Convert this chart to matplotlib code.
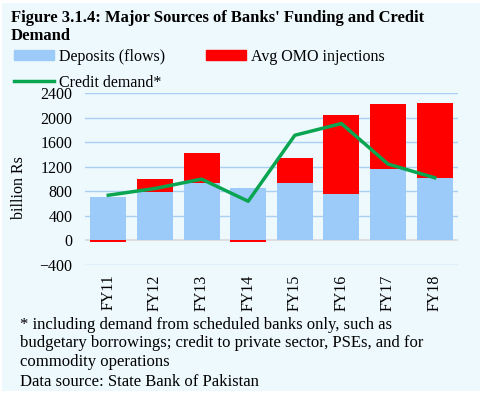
import numpy as np
import matplotlib.pyplot as plt
from matplotlib.patches import Rectangle
from matplotlib.lines import Line2D

years = ['FY11', 'FY12', 'FY13', 'FY14', 'FY15', 'FY16', 'FY17', 'FY18']
deposits = [708, 790, 938, 861, 938, 758, 1167, 1020]
omo = [-25, 203, 490, -25, 409, 1276, 1047, 1216]
credit = [736, 845, 998, 638, 1712, 1903, 1243, 1020]

plt.rcParams['font.family'] = ['Liberation Serif', 'DejaVu Serif']

W, H = 486, 394
fig = plt.figure(figsize=(W / 100, H / 100), dpi=100)
fig.patch.set_facecolor('white')
bg = '#EEF9FD'
fig.patches.append(Rectangle((2 / W, 1 - 391 / H), 478 / W, 388 / H,
                             transform=fig.transFigure, facecolor=bg,
                             edgecolor='none', zorder=-10))

ax = fig.add_axes([85 / W, 1 - 265 / H, 373 / W, 172 / H])
ax.set_facecolor('none')

x = np.arange(len(years))
blue = '#9DCBF9'
red = '#FF0000'
green = '#0AA550'

# negatives stack down from zero, like excel does
omo_bottom = [d if o >= 0 else 0 for d, o in zip(deposits, omo)]
ax.bar(x, deposits, width=0.77, color=blue, zorder=2)
ax.bar(x, omo, width=0.77, bottom=omo_bottom, color=red, zorder=2)
ax.plot(x, credit, color=green, lw=2.5, zorder=3)

ax.set_xlim(-0.5, 7.5)
ax.set_ylim(-400, 2400)
ax.set_yticks(range(-400, 2401, 400))
ax.set_xticks(x)
ax.set_xticklabels(years, rotation=90, fontsize=11.5)
ax.tick_params(axis='y', labelsize=11.5, length=0, pad=9)
ax.tick_params(axis='x', length=0, pad=7)
for v in range(-400, 2401, 400):
    if v == 0:
        ax.axhline(0, color='#D9D9D9', lw=1.2, zorder=1)
    else:
        ax.axhline(v, color='#A9CFF2', lw=1, zorder=1)
for s in ax.spines.values():
    s.set_visible(False)
ax.set_ylabel('billion Rs', fontsize=11.5)
ax.yaxis.set_label_coords(-58 / 373, 0.45)

fig.text(11 / W, 1 - 22 / H, "Figure 3.1.4: Major Sources of Banks' Funding and Credit",
         fontsize=12, fontweight='bold', va='baseline')
fig.text(11 / W, 1 - 40 / H, 'Demand', fontsize=12, fontweight='bold', va='baseline')

# column-major fill, so order is blue, green | red
handles = [Rectangle((0, 0), 1, 1, color=blue),
           Line2D([0], [0], color=green, lw=2.5),
           Rectangle((0, 0), 1, 1, color=red)]
labels = ['Deposits (flows)', 'Credit demand*', 'Avg OMO injections']
fig.legend(handles, labels, ncol=2, loc='upper left', bbox_to_anchor=(14 / W, 1 - 49 / H),
           frameon=False, fontsize=11.5, handlelength=2.5, handleheight=0.6,
           handletextpad=0.3, columnspacing=2.6, labelspacing=0.6, borderaxespad=0,
           borderpad=0)

notes = ['* including demand from scheduled banks only, such as',
         'budgetary borrowings; credit to private sector, PSEs, and for',
         'commodity operations',
         'Data source: State Bank of Pakistan']
ys = [325, 343, 362, 382]
for t, yy in zip(notes, ys):
    fig.text(20 / W, 1 - yy / H, t, fontsize=12, va='center')

plt.savefig('out.png', dpi=100)
